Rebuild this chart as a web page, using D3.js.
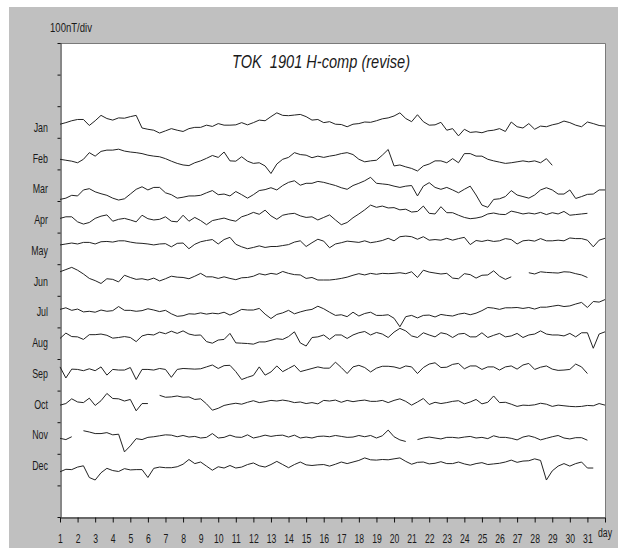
<!DOCTYPE html>
<html>
<head>
<meta charset="utf-8">
<script src="https://cdn.jsdelivr.net/npm/d3@7"></script>
<style>
  html, body { margin: 0; padding: 0; background: #ffffff; }
  svg { display: block; }
  text { font-family: "Liberation Sans", Arial, sans-serif; fill: #1a1a1a; }
</style>
</head>
<body>
<svg id="chart" width="618" height="548"></svg>
<script>
// ---------------- data (H-component deviations, nT, sampled every 8 hours) ----------------
const months = ["Jan","Feb","Mar","Apr","May","Jun","Jul","Aug","Sep","Oct","Nov","Dec"];
const dayTicks = d3.range(1, 33);
const dayLabels = d3.range(1, 32).map(String);
const samplesPerDay = 3;
const titleText = "TOK  1901 H-comp (revise)";
const scaleText = "100nT/div";
const unitText = "day";

const janH = [-2,3,9,13,13,-6,9,26,16,11,18,17,22,26,-14,-18,-21,-30,-23,-16,-21,-25,-16,-12,-12,-5,-9,0,-5,-5,-4,3,-4,3,11,9,22,34,26,25,27,29,22,
  11,13,3,6,-2,-3,-10,-2,0,5,4,9,15,18,24,34,16,6,28,6,-5,-4,4,-21,-16,-39,-18,-28,-26,-29,-23,-21,-16,-25,5,-10,-14,0,-18,-8,-10,-4,0,8,3,-5,-10,5,0,-6,-8];
const febH = [-13,-16,-19,-24,-13,8,-3,12,16,16,19,13,10,8,5,0,-3,-5,-11,-19,-26,-31,-33,-24,-18,-10,-1,-7,10,-18,-19,-5,-19,-26,-24,-34,-58,-28,-13,-7,8,2,0,
  -8,-3,-7,-3,0,5,8,2,-13,-21,-18,-16,0,18,-34,-31,-37,-42,-50,-34,-28,-18,-18,-24,-11,-24,5,5,-3,-3,-13,-18,-22,-26,-24,-21,-18,-21,-18,-24,-11,-32];
const marH = [-40,-36,-27,-29,-10,-6,-16,-22,-27,-36,-42,-38,-23,-8,0,-10,-2,-2,-19,-25,-36,-33,-29,-29,-27,-19,-12,-25,-23,-29,-15,-25,-36,-25,-12,-9,-3,-10,4,14,19,5,11,
  11,17,14,9,4,-3,-8,4,11,19,30,11,9,7,2,-2,2,4,-29,2,13,-2,-8,-2,-10,-19,-8,2,-26,-58,-65,-40,-38,-31,-12,-26,-31,-36,-26,-10,-3,-10,-23,-23,-10,-37,-31,-24,-23,-10,-10];
const aprH = [0,5,5,-11,-18,-13,0,7,11,-9,-3,0,-5,-11,10,-1,-5,-3,5,-9,-11,10,-9,3,-7,-20,-7,-3,1,-5,-9,5,11,19,13,26,8,-3,10,14,16,8,3,
  5,-5,3,11,-5,-20,-13,2,14,27,42,35,39,33,34,27,29,20,22,39,16,14,37,18,18,10,3,-1,1,5,14,17,13,12,23,19,14,17,14,19,12,18,14,22,10,12,14,16];
const mayH = [16,19,22,19,24,24,19,26,27,25,29,29,25,22,21,19,16,19,20,10,21,22,4,18,26,30,33,19,33,40,18,10,4,8,13,8,11,11,14,17,25,29,11,
  23,34,28,7,19,23,28,26,24,29,23,26,30,37,29,42,44,42,34,42,31,33,31,37,31,36,40,17,30,27,31,27,29,36,33,19,29,31,28,36,29,29,31,29,38,36,36,31,10,31,37];
const junH = [31,38,45,36,24,10,3,-6,9,7,-1,20,13,7,9,5,11,2,9,17,14,13,9,17,26,15,15,10,15,10,6,12,13,17,25,21,26,23,32,26,22,21,10,
  13,5,5,5,7,10,14,20,25,21,26,23,26,25,26,28,25,31,13,36,30,27,24,26,11,9,25,22,11,20,21,34,17,7,15,null,null,28,24,31,29,28,27,31,30,25,21,13];
const julH = [12,17,9,13,4,6,3,10,6,8,21,9,9,6,8,14,10,5,9,-2,-10,-8,-2,-3,1,-3,0,-2,3,-6,2,12,10,10,15,-3,-17,-4,1,9,-2,4,9,
  12,22,14,3,-7,-5,-11,3,-9,-1,3,-7,-7,-5,-16,-43,-11,-7,-15,-7,-6,-12,-4,-7,-9,-3,0,-5,0,8,18,16,12,17,17,18,15,18,13,19,19,22,25,21,23,29,34,18,37,35,43];
const augH = [20,37,26,25,17,32,32,34,30,21,23,26,23,10,28,33,31,40,35,43,36,44,34,30,31,10,5,15,17,36,6,5,4,2,9,9,14,19,17,26,41,6,-4,
  23,25,31,17,31,31,20,31,38,42,31,39,34,23,40,52,44,28,23,38,31,25,38,34,23,34,36,25,25,38,23,30,36,25,28,36,23,31,34,44,34,31,31,28,36,25,38,38,-11,34,41];
const sepH = [30,-5,23,22,18,24,18,30,4,22,20,20,28,-10,22,22,20,25,22,-3,22,25,24,23,24,30,36,25,34,35,15,-10,-3,3,30,4,14,33,15,25,35,15,20,
  25,30,26,26,45,28,9,30,35,28,14,26,32,32,30,25,33,30,9,28,39,43,28,29,38,41,24,33,33,22,30,30,20,30,33,23,36,41,22,29,33,23,19,20,22,39,30,9];
const octH = [9,14,29,19,17,31,8,23,46,30,29,22,27,-9,14,14,null,40,34,35,38,34,35,27,29,13,-7,-1,8,12,15,12,18,23,17,20,24,22,25,22,17,19,14,
  17,13,24,22,25,18,24,20,23,25,21,21,24,17,24,29,21,9,19,30,11,18,14,17,21,23,13,19,27,13,18,38,17,18,12,5,9,8,10,15,12,5,9,7,5,4,5,8,7,14,9];
const novH = [4,0,9,null,28,24,19,19,22,15,17,-39,-20,3,0,7,9,12,15,14,9,13,8,10,5,7,19,5,7,14,8,7,15,5,9,14,10,13,14,8,14,5,8,
  5,10,11,9,13,10,7,8,13,9,13,5,12,30,9,-1,-6,null,0,5,8,5,2,7,7,5,8,10,5,7,3,12,7,7,4,-1,8,12,7,-1,4,9,13,5,2,6,6,-2];
const decH = [-2,6,5,13,17,-20,-28,-5,9,2,-1,8,4,5,5,-20,9,13,11,11,14,22,37,24,29,16,3,14,10,18,10,13,21,26,17,13,21,31,21,11,21,29,20,
  18,20,21,16,22,29,24,29,34,42,36,35,37,36,39,42,31,22,28,29,23,25,30,24,24,29,23,19,24,27,21,23,25,29,35,28,32,33,39,34,-28,1,16,24,16,24,29,10,10];

const monthlyH = [janH, febH, marH, aprH, mayH, junH, julH, augH, sepH, octH, novH, decH];

// ---------------- layout ----------------
const W = 618, H = 548;
const plot = { left: 60, right: 605, top: 43, bottom: 517 };
const firstTraceNT = 1245;   // vertical stacking of months on the nT axis
const monthStepNT = 100;

const svg = d3.select("#chart");

svg.append("rect").attr("x", 0).attr("y", 0).attr("width", W).attr("height", H).attr("fill", "#ffffff");
svg.append("rect").attr("x", 9).attr("y", 7).attr("width", W - 9).attr("height", H - 7).attr("fill", "#c0c0c0");
svg.append("rect").attr("x", plot.left).attr("y", plot.top)
  .attr("width", plot.right - plot.left).attr("height", plot.bottom - plot.top).attr("fill", "#ffffff");
// frame top/right
svg.append("path")
  .attr("d", `M${plot.left},${plot.top + 0.5}H${plot.right + 0.5}V${plot.bottom}`)
  .attr("fill", "none").attr("stroke", "#7a7a7a").attr("stroke-width", 1);

const x = d3.scaleLinear().domain([1, 32]).range([plot.left, plot.right]);
const y = d3.scaleLinear().domain([0, 1500]).range([plot.bottom, plot.top]);
const yLab = d3.scalePoint().domain(months).range([128, 466]);

// left axis (100 nT per division)
const yAxis = d3.axisLeft(y).tickValues(d3.range(0, 1501, 100)).tickSize(3).tickSizeOuter(0).tickFormat("");
svg.append("g").attr("transform", `translate(${plot.left + 0.5},0)`).call(yAxis)
  .call(g => g.select(".domain").attr("stroke", "#111"))
  .call(g => g.selectAll(".tick line").attr("stroke", "#111"));

// bottom axis (days)
const xAxis = d3.axisBottom(x).tickValues(dayTicks).tickSize(5).tickSizeOuter(0).tickPadding(12)
  .tickFormat(d => dayLabels[d - 1] || "");
svg.append("g").attr("transform", `translate(0,${plot.bottom + 0.5})`).call(xAxis)
  .call(g => g.select(".domain").attr("stroke", "#111"))
  .call(g => g.selectAll(".tick line").attr("stroke", "#111"))
  .call(g => g.selectAll(".tick text")
      .attr("font-family", "'Liberation Sans', Arial, sans-serif")
      .attr("font-size", 12).attr("fill", "#1a1a1a")
      .attr("transform", "scale(0.72,1)"));

// month labels
svg.append("g").selectAll("text").data(months).join("text")
  .attr("transform", d => `translate(48,${yLab(d) + 4}) scale(0.74,1)`)
  .attr("text-anchor", "end").attr("font-size", 12).text(d => d);

// traces
const line = d3.line()
  .defined(d => d.v !== null)
  .x(d => x(d.t))
  .y(d => y(d.base + d.v));

svg.append("g").selectAll("path").data(monthlyH).join("path")
  .attr("d", (vals, i) => line(vals.map((v, k) => ({ t: 1 + k / samplesPerDay, v: v, base: firstTraceNT - monthStepNT * i }))))
  .attr("fill", "none").attr("stroke", "#222").attr("stroke-width", 1).attr("stroke-linejoin", "round");

// title
svg.append("text")
  .attr("x", 232).attr("y", 68)
  .attr("font-size", 18).attr("font-style", "italic")
  .attr("textLength", 178).attr("lengthAdjust", "spacingAndGlyphs")
  .style("white-space", "pre")
  .text(titleText);

// scale note and unit
svg.append("text").attr("x", 50).attr("y", 32).attr("font-size", 12)
  .attr("textLength", 42).attr("lengthAdjust", "spacingAndGlyphs").text(scaleText);
svg.append("text").attr("x", 598).attr("y", 537).attr("font-size", 12)
  .attr("textLength", 14).attr("lengthAdjust", "spacingAndGlyphs").text(unitText);
</script>
</body>
</html>
